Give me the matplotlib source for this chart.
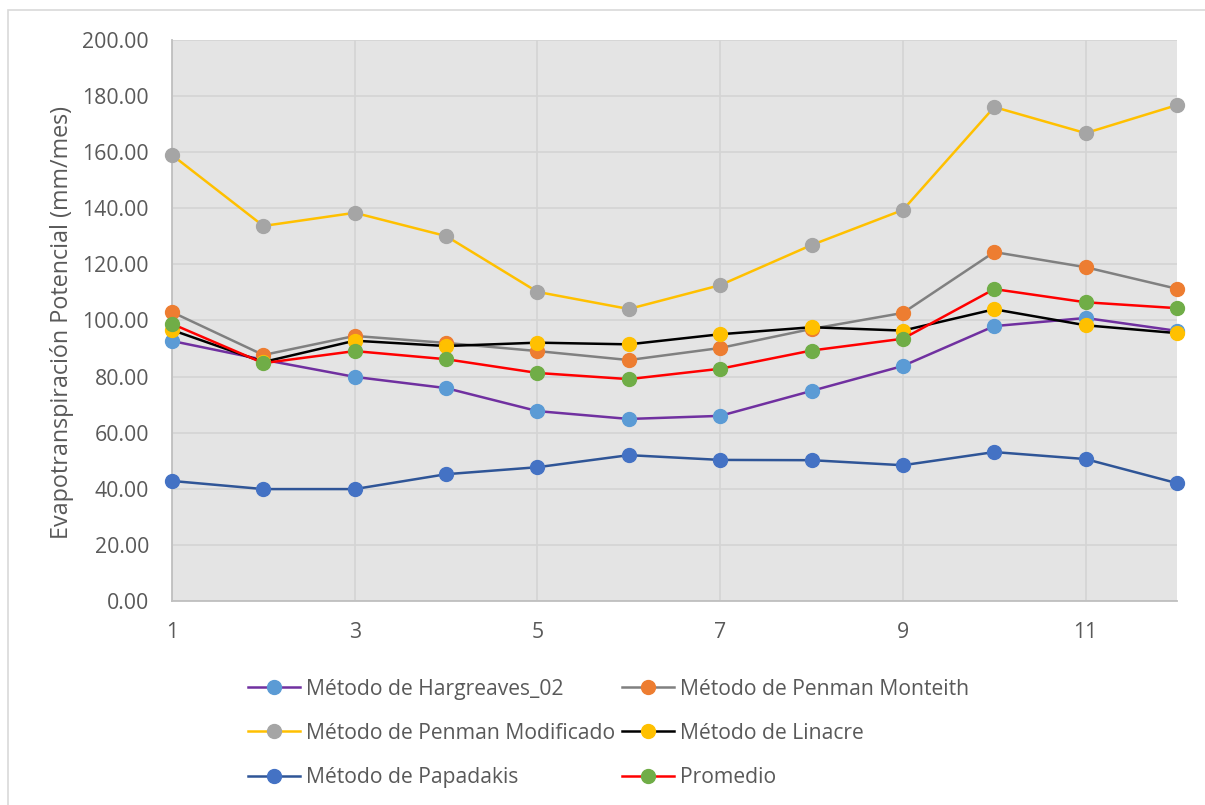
import matplotlib
matplotlib.use("Agg")
import matplotlib.pyplot as plt
from matplotlib.patches import Rectangle
from matplotlib.lines import Line2D

meses = list(range(1, 13))

hargreaves = [92.7, 86.0, 79.9, 75.9, 67.7, 64.9, 66.0, 74.9, 83.8, 98.0, 100.9, 96.3]
penman_monteith = [103.0, 87.7, 94.5, 92.0, 89.1, 85.9, 90.2, 97.0, 102.7, 124.4, 119.0, 111.3]
penman_modificado = [159.0, 133.7, 138.4, 130.1, 110.2, 104.1, 112.6, 126.9, 139.4, 176.1, 166.8, 176.8]
linacre = [96.6, 85.2, 92.8, 90.9, 92.1, 91.5, 95.1, 97.6, 96.4, 104.0, 98.3, 95.5]
papadakis = [42.8, 39.9, 39.9, 45.2, 47.7, 52.0, 50.3, 50.2, 48.4, 53.1, 50.6, 42.0]
promedio = [98.8, 84.8, 89.1, 86.2, 81.3, 79.1, 82.8, 89.3, 93.5, 111.2, 106.5, 104.4]

nombres = [
    "Método de Hargreaves_02",
    "Método de Penman Monteith",
    "Método de Penman Modificado",
    "Método de Linacre",
    "Método de Papadakis",
    "Promedio",
]
series = [hargreaves, penman_monteith, penman_modificado, linacre, papadakis, promedio]

# color de la línea y color del marcador (estilo Excel)
colores_linea = ["#7030A0", "#808080", "#FFC000", "#000000", "#2F5597", "#FF0000"]
colores_marcador = ["#5B9BD5", "#ED7D31", "#A5A5A5", "#FFC000", "#4472C4", "#70AD47"]

plt.rcParams["font.family"] = ["Open Sans", "DejaVu Sans"]

fig = plt.figure(figsize=(12.05, 8.05), dpi=100)
ax = fig.add_axes([172 / 1205, 1 - 601 / 805, (1177 - 172) / 1205, (601 - 40) / 805])

# borde exterior del gráfico
fig.patches.append(Rectangle((8 / 1205, -0.1), 1.2, (805 - 10) / 805 + 0.1,
                             transform=fig.transFigure, fill=False,
                             edgecolor="#D9D9D9", linewidth=1.2))

ax.set_facecolor("#E4E4E4")

for y, nombre, cl, cm in zip(series, nombres, colores_linea, colores_marcador):
    ax.plot(meses, y, color=cl, linewidth=1.8, marker="o", markersize=10,
            markerfacecolor=cm, markeredgecolor=cm, label=nombre, zorder=3,
            clip_on=False)

ax.set_xlim(1, 12)
ax.set_ylim(0, 200)
ax.set_xticks([1, 3, 5, 7, 9, 11])
ax.set_yticks(range(0, 201, 20))
ax.set_yticklabels([f"{v:.2f}" for v in range(0, 201, 20)])
ax.tick_params(axis="both", length=0, labelsize=15.3, colors="#595959")
ax.tick_params(axis="y", pad=16.5)
ax.tick_params(axis="x", pad=15)

ax.grid(color="#D4D4D4", linewidth=1.2, zorder=1)
ax.set_axisbelow(True)

ax.spines[["top", "right"]].set_visible(False)
ax.spines[["left", "bottom"]].set_color("#BFBFBF")
ax.spines[["left", "bottom"]].set_linewidth(1.3)

ax.set_ylabel("Evapotranspiración Potencial (mm/mes)", fontsize=16.8, color="#595959")
ax.yaxis.set_label_coords(-0.098, 0.497)

# leyenda en dos columnas, orden por filas
orden = [0, 2, 4, 1, 3, 5]
handles = [Line2D([0], [0], color=colores_linea[i], linewidth=1.8, marker="o", markersize=10,
                  markerfacecolor=colores_marcador[i], markeredgecolor=colores_marcador[i])
           for i in orden]
etiquetas = [nombres[i] for i in orden]
leg = fig.legend(handles, etiquetas, ncol=2, loc="center", bbox_to_anchor=(0.505, 0.089),
                 frameon=False, fontsize=15.2, labelcolor="#595959",
                 handlelength=2.5, handletextpad=0.28, columnspacing=0.3,
                 labelspacing=1.1)

fig.savefig("out.png", dpi=100)
